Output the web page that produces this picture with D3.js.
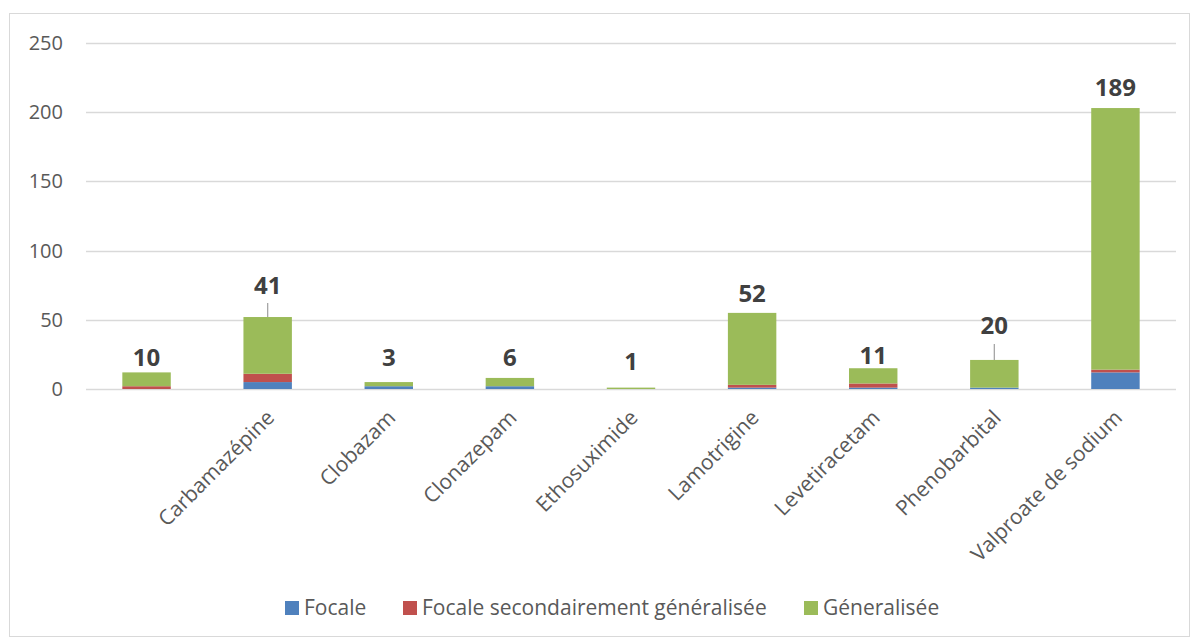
<!DOCTYPE html>
<html><head><meta charset="utf-8">
<script src="https://cdn.jsdelivr.net/npm/d3@7"></script>
<style>body{margin:0;background:#fff;} text{font-family:"Open Sans",Lato,sans-serif;}</style>
</head><body><svg id="c" width="1191" height="639"></svg>
<script>
const categories = ["", "Carbamazépine", "Clobazam", "Clonazepam", "Ethosuximide", "Lamotrigine", "Levetiracetam", "Phenobarbital", "Valproate de sodium"];
const focale = [0, 5, 2, 2, 0, 1, 1, 1, 12];
const focaleSec = [2, 6, 0, 0, 0, 2, 3, 0, 2];
const generalisee = [10, 41, 3, 6, 1, 52, 11, 20, 189];
const labels = ["10", "41", "3", "6", "1", "52", "11", "20", "189"];
const seriesNames = ["Focale", "Focale secondairement généralisée", "Géneralisée"];
const yTicks = [0, 50, 100, 150, 200, 250];

// layout / style config
const colors = ["#4f81bd", "#c0504d", "#9bbb59"];
const labelLift = [6, 23, 16, 12, 18, 11, 4, 26, 12];
const leaderLen = [0, 14, 0, 0, 0, 0, 0, 16, 0];

const svg = d3.select("#c");
svg.append("rect").attr("x", 9.5).attr("y", 13.5).attr("width", 1180).attr("height", 623)
  .attr("fill", "none").attr("stroke", "#d9d9d9");

const x = d3.scaleBand().domain(categories.map((c,i)=>i)).range([86, 1176]).paddingInner(0.6).paddingOuter(0.3);
const y = d3.scaleLinear().domain([0, 250]).range([389, 43]);

svg.append("g").selectAll("line").data(yTicks).join("line")
  .attr("x1", 86).attr("x2", 1176).attr("y1", d=>Math.round(y(d))+0.5).attr("y2", d=>Math.round(y(d))+0.5)
  .attr("stroke", "#d9d9d9").attr("stroke-width", 1.3);
svg.append("g").selectAll("text").data(yTicks).join("text")
  .attr("x", 63).attr("y", d=>y(d)).attr("dy", "0.35em").attr("text-anchor", "end")
  .attr("font-size", 20).attr("fill", "#595959").text(d=>d);

const rows = categories.map((c,i)=>({i, Focale: focale[i], Sec: focaleSec[i], Gen: generalisee[i]}));
const stack = d3.stack().keys(["Focale", "Sec", "Gen"])(rows);
stack.forEach((s, k) => {
  svg.append("g").selectAll("rect").data(s).join("rect")
    .attr("x", d=>x(d.data.i)).attr("width", x.bandwidth())
    .attr("y", d=>y(d[1])).attr("height", d=>y(d[0]) - y(d[1]))
    .attr("fill", colors[k]);
});

// data labels
rows.forEach((r, i) => {
  const top = y(r.Focale + r.Sec + r.Gen);
  const cx = x(i) + x.bandwidth()/2;
  if (leaderLen[i] > 0) {
    svg.append("line").attr("x1", cx).attr("x2", cx).attr("y1", top - leaderLen[i]).attr("y2", top)
      .attr("stroke", "#a6a6a6").attr("stroke-width", 1.3);
  }
  svg.append("text").attr("x", cx).attr("y", top - labelLift[i]).attr("text-anchor", "middle")
    .attr("font-size", 24).attr("font-weight", "bold").attr("fill", "#404040").text(labels[i]);
});

// x labels
categories.forEach((c, i) => {
  const cx = x(i) + x.bandwidth()/2;
  svg.append("text").attr("transform", `translate(${cx+8},${419}) rotate(-45)`)
    .attr("text-anchor", "end").attr("font-size", 21).attr("fill", "#595959").text(c);
});

// legend
const legX = [285, 403, 804];
seriesNames.forEach((n, k) => {
  svg.append("rect").attr("x", legX[k]).attr("y", 601).attr("width", 14).attr("height", 14).attr("fill", colors[k]);
  svg.append("text").attr("x", legX[k] + 19).attr("y", 608).attr("dy", "0.35em")
    .attr("font-size", 21).attr("fill", "#595959").text(n);
});
</script></body></html>
